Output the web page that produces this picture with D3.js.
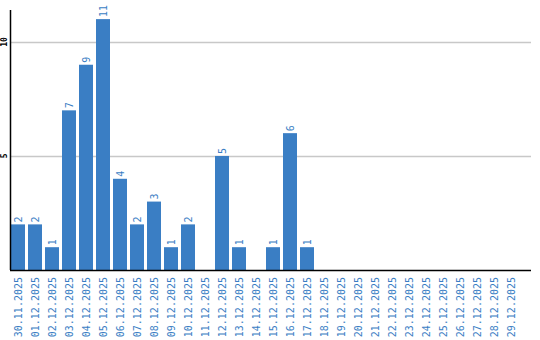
<!DOCTYPE html>
<html>
<head>
<meta charset="utf-8">
<script src="https://cdn.jsdelivr.net/npm/d3@7"></script>
<style>
  body { margin: 0; background: #fff; }
  svg { display: block; }
</style>
</head>
<body>
<div id="chart"></div>
<script>
// data
const dates = ["30.11.2025", "01.12.2025", "02.12.2025", "03.12.2025", "04.12.2025",
  "05.12.2025", "06.12.2025", "07.12.2025", "08.12.2025", "09.12.2025",
  "10.12.2025", "11.12.2025", "12.12.2025", "13.12.2025", "14.12.2025",
  "15.12.2025", "16.12.2025", "17.12.2025", "18.12.2025", "19.12.2025",
  "20.12.2025", "21.12.2025", "22.12.2025", "23.12.2025", "24.12.2025",
  "25.12.2025", "26.12.2025", "27.12.2025", "28.12.2025", "29.12.2025"];
const counts = [2, 2, 1, 7, 9, 11, 4, 2, 3, 1, 2, 0, 5, 1, 0, 1, 6, 1,
  0, 0, 0, 0, 0, 0, 0, 0, 0, 0, 0, 0];
const yTicks = [5, 10];

const width = 540, height = 340;
const mLeft = 10, mRight = 531, mTop = 10, mBottom = 270;
const blue = "#3a7ec4";
const font = "DejaVu Sans Mono, monospace";

const svg = d3.select("#chart").append("svg")
  .attr("width", width)
  .attr("height", height);

const x = d3.scaleBand()
  .domain(dates)
  .range([11, 518])
  .paddingInner(3 / 17)
  .paddingOuter(0);

const y = d3.scaleLinear()
  .domain([0, 11.4])
  .range([mBottom, mTop]);

// grid lines
svg.append("g")
  .selectAll("line")
  .data(yTicks)
  .join("line")
  .attr("x1", mLeft)
  .attr("x2", mRight)
  .attr("y1", d => Math.round(y(d)) + 0.5)
  .attr("y2", d => Math.round(y(d)) + 0.5)
  .attr("stroke", "#c8c8c8")
  .attr("stroke-width", 1.5);

// y tick labels
svg.append("g")
  .selectAll("text")
  .data(yTicks)
  .join("text")
  .attr("transform", d => `translate(7,${y(d)}) rotate(-90)`)
  .attr("text-anchor", "middle")
  .attr("font-family", font)
  .attr("font-size", 8)
  .attr("font-weight", "bold")
  .attr("fill", "#000")
  .text(d => d);

// bars
const data = dates.map((d, i) => ({ date: d, value: counts[i] }));

svg.append("g")
  .selectAll("rect")
  .data(data.filter(d => d.value > 0))
  .join("rect")
  .attr("x", d => x(d.date))
  .attr("y", d => y(d.value))
  .attr("width", x.bandwidth())
  .attr("height", d => mBottom - y(d.value))
  .attr("fill", blue);

// value labels
svg.append("g")
  .selectAll("text")
  .data(data.filter(d => d.value > 0))
  .join("text")
  .attr("transform", d => `translate(${x(d.date) + x.bandwidth() / 2 + 4},${y(d.value) - 2}) rotate(-90)`)
  .attr("font-family", font)
  .attr("font-size", 10)
  .attr("fill", blue)
  .text(d => d.value);

// axes lines
svg.append("line")
  .attr("x1", mLeft + 0.5).attr("x2", mLeft + 0.5)
  .attr("y1", mTop).attr("y2", mBottom)
  .attr("stroke", "#000").attr("stroke-width", 1.5);

svg.append("line")
  .attr("x1", mLeft).attr("x2", mRight)
  .attr("y1", mBottom + 0.5).attr("y2", mBottom + 0.5)
  .attr("stroke", "#000").attr("stroke-width", 1.5);

// x labels
svg.append("g")
  .selectAll("text")
  .data(dates)
  .join("text")
  .attr("transform", d => `translate(${x(d) + x.bandwidth() / 2 + 4},277) rotate(-90)`)
  .attr("text-anchor", "end")
  .attr("font-family", font)
  .attr("font-size", 10)
  .attr("fill", blue)
  .text(d => d);
</script>
</body>
</html>
